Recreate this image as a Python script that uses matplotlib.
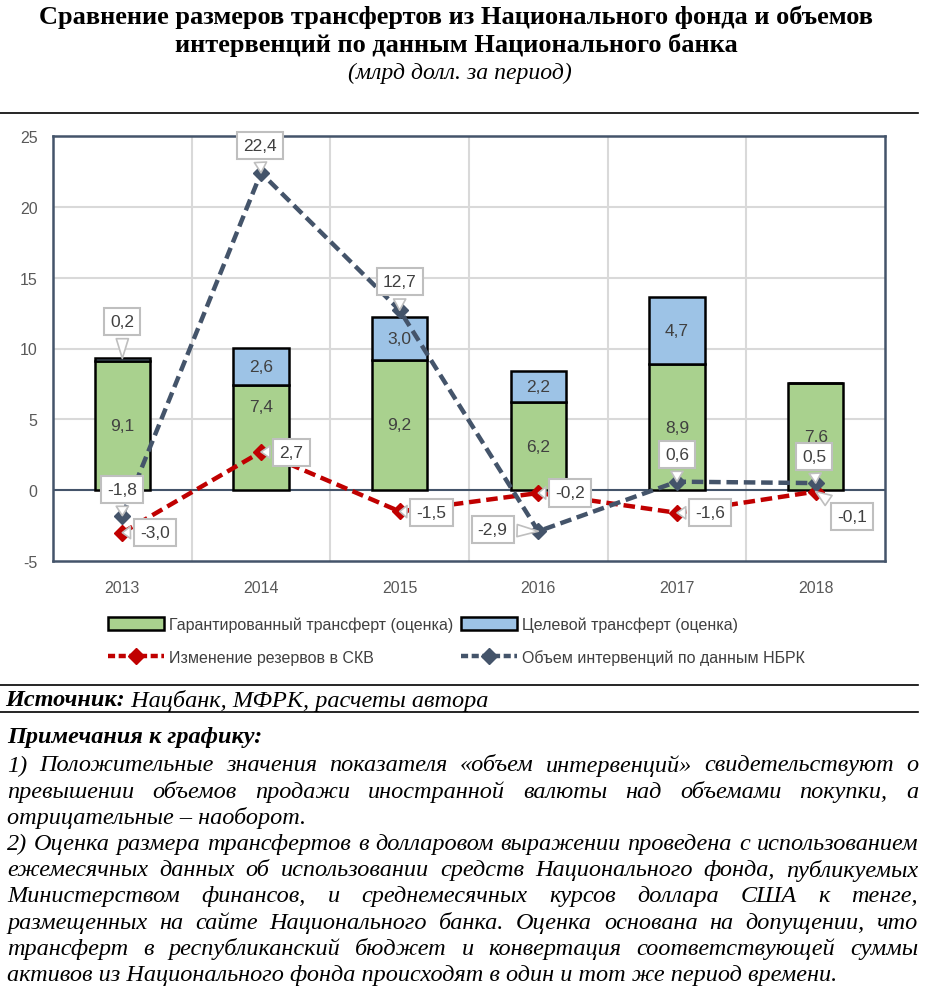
import matplotlib
matplotlib.use("Agg")
import matplotlib.pyplot as plt
from matplotlib.lines import Line2D
from matplotlib.patches import Patch

plt.rcParams["axes.unicode_minus"] = False

years = ["2013", "2014", "2015", "2016", "2017", "2018"]
guaranteed = [9.1, 7.4, 9.2, 6.2, 8.9, 7.6]
targeted = [0.2, 2.6, 3.0, 2.2, 4.7, 0.0]
reserves = [-3.0, 2.7, -1.5, -0.2, -1.6, -0.1]
interventions = [-1.8, 22.4, 12.7, -2.9, 0.6, 0.5]

title_lines = ["Сравнение размеров трансфертов из Национального фонда и объемов",
               "интервенций по данным Национального банка"]
subtitle = "(млрд долл. за период)"
legend_labels = ["Гарантированный трансферт (оценка)", "Изменение резервов в СКВ",
                 "Целевой трансферт (оценка)", "Объем интервенций по данным НБРК"]
source_bold = "Источник:"
source_text = " Нацбанк, МФРК, расчеты автора"
notes_head = "Примечания к графику:"
notes = [
    ("1) Положительные значения показателя «объем интервенций» свидетельствуют о", True),
    ("превышении объемов продажи иностранной валюты над объемами покупки, а", True),
    ("отрицательные – наоборот.", False),
    ("2) Оценка размера трансфертов в долларовом выражении проведена с использованием", True),
    ("ежемесячных данных об использовании средств Национального фонда, публикуемых", True),
    ("Министерством финансов, и среднемесячных курсов доллара США к тенге,", True),
    ("размещенных на сайте Национального банка. Оценка основана на допущении, что", True),
    ("трансферт в республиканский бюджет и конвертация соответствующей суммы", True),
    ("активов из Национального фонда происходят в один и тот же период времени.", False),
]

# callout box offsets (data units) relative to the labelled point
iv_off = [(0.0, 1.87), (-0.01, 1.95), (0.0, 2.0), (-0.33, 0.1), (0.0, 1.94), (-0.01, 1.9)]
rs_off = [(0.235, 0.04), (0.22, -0.02), (0.23, -0.05), (0.23, 0.0), (0.24, 0.0), (0.26, -1.75)]
tg_off = (0.0, 2.6)

W, H = 930, 1004
SANS = ["Liberation Sans", "DejaVu Sans"]
SERIF = ["Liberation Serif", "DejaVu Serif"]
GREEN, BLUE = "#A9D18E", "#9DC3E6"
RED, NAVY = "#C00000", "#44546A"
TXT = "#404040"

fig = plt.figure(figsize=(W / 100, H / 100), dpi=100)
fig.patch.set_facecolor("white")
renderer = fig.canvas.get_renderer()

def fy(py):
    return 1 - py / H

def width_of(s, **kw):
    t = fig.text(0, 0, s, **kw)
    w = t.get_window_extent(renderer).width
    t.remove()
    return w

# ---- chart
ax = fig.add_axes([53 / W, 1 - 562 / H, 832 / W, 425 / H])
x = list(range(len(years)))
ax.bar(x, guaranteed, width=0.4, color=GREEN, edgecolor="black", linewidth=1.8, zorder=2)
ax.bar(x, targeted, width=0.4, bottom=guaranteed, color=BLUE, edgecolor="black",
       linewidth=1.8, zorder=2)

dash = dict(linestyle=(0, (2.6, 1.3)), linewidth=3.2, marker="D", markersize=8, zorder=3)
ax.plot(x, reserves, color=RED, **dash)
ax.plot(x, interventions, color=NAVY, **dash)

ax.set_xlim(-0.5, 5.5)
ax.set_ylim(-5, 25)
ax.set_yticks(range(-5, 26, 5))
ax.set_xticks(x)
ax.set_xticklabels(years)
ax.tick_params(length=0, colors="#595959", labelsize=11.5, pad=14)
ax.tick_params(axis="y", pad=11)
for lab in ax.get_xticklabels() + ax.get_yticklabels():
    lab.set_family(SANS)
for v in [0.5, 1.5, 2.5, 3.5, 4.5]:
    ax.axvline(v, color="#D9D9D9", linewidth=1.5, zorder=0)
for v in [5, 10, 15, 20]:
    ax.axhline(v, color="#D9D9D9", linewidth=1.5, zorder=0)
ax.axhline(0, color=NAVY, linewidth=1.5, zorder=1)
for s in ax.spines.values():
    s.set_edgecolor(NAVY)
    s.set_linewidth(1.8)

def fmt(v):
    return f"{v:.1f}".replace(".", ",")

lab_kw = dict(fontsize=12.5, color=TXT, family=SANS, ha="center", va="center", zorder=4)
g_pos = [g / 2 for g in guaranteed]
g_pos[1] = 5.9  # moved up in the original to clear the 2,7 callout
for i, g in enumerate(guaranteed):
    ax.text(i, g_pos[i], fmt(g), **lab_kw)
for i, (g, t) in enumerate(zip(guaranteed, targeted)):
    if t >= 1:
        ax.text(i, g + t / 2, fmt(t), **lab_kw)

def callout(px, py, dx, dy, val):
    ax.annotate(fmt(val), xy=(px, py), xytext=(px + dx, py + dy),
                fontsize=12.5, color=TXT, family=SANS, ha="center", va="center", zorder=6,
                bbox=dict(boxstyle="square,pad=0.35", fc="white", ec="#BFBFBF", lw=1.5),
                arrowprops=dict(arrowstyle="wedge,tail_width=0.7,shrink_factor=0.5",
                                fc="white", ec="#BFBFBF", lw=1.2, shrinkB=0))

for i, v in enumerate(interventions):
    callout(i, v, iv_off[i][0], iv_off[i][1], v)
for i, v in enumerate(reserves):
    callout(i, v, rs_off[i][0], rs_off[i][1], v)
callout(0, guaranteed[0] + targeted[0], tg_off[0], tg_off[1], targeted[0])

handles = [Patch(fc=GREEN, ec="black", lw=1.8),
           Line2D([], [], color=RED, linestyle=(0, (1.6, 0.8)), linewidth=3.2, marker="D", markersize=8),
           Patch(fc=BLUE, ec="black", lw=1.8),
           Line2D([], [], color=NAVY, linestyle=(0, (1.6, 0.8)), linewidth=3.2, marker="D", markersize=8)]
leg = fig.legend(handles, legend_labels, ncol=2, loc="center left",
                 bbox_to_anchor=(94 / W, fy(642)), frameon=False,
                 prop={"family": SANS, "size": 11.5}, handlelength=3.5, handleheight=0.9,
                 handletextpad=0.3, columnspacing=0.5, labelspacing=1.1)
for t in leg.get_texts():
    t.set_color(TXT)

# ---- title block
tkw = dict(family=SERIF, weight="bold")
tsize = 16 * 840 / width_of(title_lines[0], size=16, **tkw)
fig.text(456 / W, fy(17), title_lines[0], ha="center", va="center", size=tsize, **tkw)
fig.text(456 / W, fy(45), title_lines[1], ha="center", va="center", size=tsize, **tkw)
fig.text(460 / W, fy(73), subtitle, ha="center", va="center", size=tsize * 0.9,
         family=SERIF, style="italic")

for py in [114, 686, 713]:
    fig.add_artist(Line2D([0, 918 / W], [fy(py), fy(py)], color="black", lw=1.2))

# ---- source and notes
nkw = dict(family=SERIF, style="italic")
nsize = 16 * 905 / width_of(notes[3][0], size=16, **nkw)
sb = fig.text(5 / W, fy(701), source_bold, ha="left", va="center", size=nsize,
              weight="bold", **nkw)
sbw = sb.get_window_extent(renderer).width
fig.text((5 + sbw) / W, fy(701), source_text, ha="left", va="center", size=nsize, **nkw)
fig.text(7 / W, fy(738), notes_head, ha="left", va="center", size=nsize, weight="bold", **nkw)

x0, x1 = 7, 918
for k, (line, just) in enumerate(notes):
    py = 766 + k * 26.2
    if not just:
        fig.text(x0 / W, fy(py), line, ha="left", va="center", size=nsize, **nkw)
        continue
    words = line.split(" ")
    ws = [width_of(w, size=nsize, **nkw) for w in words]
    gap = (x1 - x0 - sum(ws)) / (len(words) - 1)
    xx = x0
    for w, ww in zip(words, ws):
        fig.text(xx / W, fy(py), w, ha="left", va="center", size=nsize, **nkw)
        xx += ww + gap

fig.savefig("out.png", dpi=100, facecolor="white")
